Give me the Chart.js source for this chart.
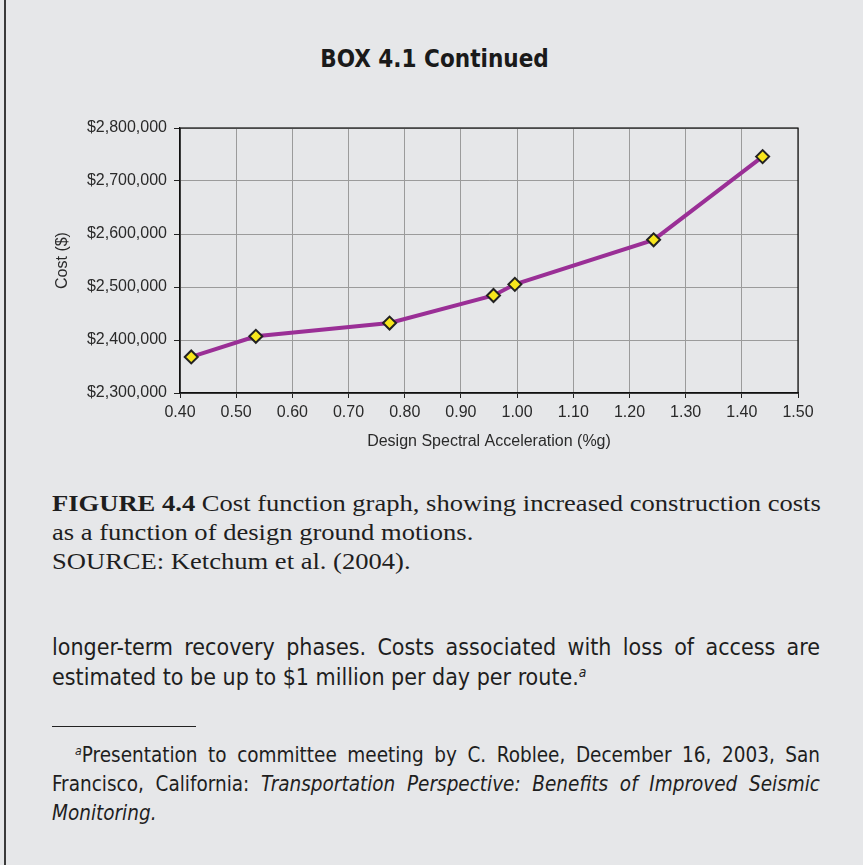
<!DOCTYPE html>
<html>
<head>
<meta charset="utf-8">
<script src="https://cdn.jsdelivr.net/npm/chart.js@4"></script>
<style>
  html, body { margin: 0; padding: 0; }
  body { width: 863px; height: 865px; background: #e6e7e9; position: relative; overflow: hidden; }
  #edge { position: absolute; left: 4px; top: 0; width: 2px; height: 865px; background: #3a3a3a; }
  #title { position: absolute; left: 3px; top: 45px; width: 863px; text-align: center;
           font: bold 24px "Liberation Sans Narrow", "DejaVu Sans Condensed", sans-serif; color: #1a1a1a; }
  #box { position: absolute; left: 0; top: 100px; width: 863px; height: 360px; }
  .ln { position: absolute; left: 52px; width: 768px; white-space: nowrap; color: #1e1e1e; }
  .just { text-align: justify; text-align-last: justify; white-space: normal; }
  #caption { position: absolute; left: 52px; top: 489px; width: 665px; transform: scaleX(1.155); transform-origin: 0 0;
             font: 23px "Liberation Serif", serif; line-height: 29px; color: #1e1e1e; white-space: nowrap; }
  .body { font: 23px "Liberation Sans Narrow", "DejaVu Sans Condensed", sans-serif; }
  .foot { font: 20.5px "Liberation Sans Narrow", "DejaVu Sans Condensed", sans-serif; }
  sup { font-size: 60%; font-style: italic; vertical-align: 0.55em; line-height: 0; }
  #rule { position: absolute; left: 52px; top: 726px; width: 144px; height: 1px; background: #222; }
</style>
</head>
<body>
<div id="edge"></div>
<div id="title">BOX 4.1 Continued</div>
<div id="box"><canvas id="grafico"></canvas></div>

<div id="caption"><b>FIGURE 4.4</b> Cost function graph, showing increased construction costs<br>as a function of design ground motions.<br>SOURCE: Ketchum et al. (2004).</div>

<div class="ln body just" style="top:634px">longer-term recovery phases. Costs associated with loss of access are</div>
<div class="ln body" style="top:664px">estimated to be up to $1 million per day per route.<sup>a</sup></div>

<div id="rule"></div>

<div class="ln foot just" style="top:743px; left:75px; width:745px"><sup>a</sup>Presentation to committee meeting by C. Roblee, December 16, 2003, San</div>
<div class="ln foot just" style="top:772px">Francisco, California: <i>Transportation Perspective: Benefits of Improved Seismic</i></div>
<div class="ln foot" style="top:801px"><i>Monitoring.</i></div>

<script>
// valores
const aceleracion = [0.42, 0.535, 0.773, 0.958, 0.996, 1.243, 1.437];
const costo = [2368000, 2407000, 2432000, 2484000, 2505000, 2589000, 2746000];
const xTicks = [0.4, 0.5, 0.6, 0.7, 0.8, 0.9, 1.0, 1.1, 1.2, 1.3, 1.4, 1.5];
const yTicks = [2300000, 2400000, 2500000, 2600000, 2700000, 2800000];

const puntos = aceleracion.map((x, i) => ({ x: x, y: costo[i] }));

// marco negro alrededor del area del grafico
const marco = {
    id: "marco",
    afterDraw(chart) {
        const a = chart.chartArea;
        const c = chart.ctx;
        c.save();
        c.strokeStyle = "#111";
        c.lineWidth = 1.2;
        c.strokeRect(a.left, a.top, a.right - a.left, a.bottom - a.top);
        c.restore();
    }
};

const fuente = { family: "'Liberation Sans', Arial, sans-serif", size: 16 };

const ctx = document.getElementById("grafico").getContext("2d");
window.myChart = new Chart(ctx, {
    type: "line",
    data: {
        datasets: [{
            data: puntos,
            borderColor: "#9a2f96",
            borderWidth: 4,
            pointStyle: "rectRot",
            pointRadius: 6.5,
            pointBackgroundColor: "#f7e61c",
            pointBorderColor: "#222",
            pointBorderWidth: 2,
            fill: false,
            tension: 0
        }]
    },
    options: {
        responsive: true,
        maintainAspectRatio: false,
        animation: false,
        layout: { padding: { left: 0, right: 65, top: 28, bottom: 0 } },
        plugins: { legend: { display: false }, tooltip: { enabled: false } },
        scales: {
            x: {
                type: "linear",
                min: xTicks[0],
                max: xTicks[xTicks.length - 1],
                afterBuildTicks: (s) => { s.ticks = xTicks.map(v => ({ value: v })); },
                afterFit: (s) => { s.height = 67; },
                grid: { color: "#9b9b9b", lineWidth: 1, tickLength: 5, tickColor: "#222" },
                border: { color: "#111", width: 1.2 },
                ticks: { font: fuente, color: "#2a2a2a", padding: 5, maxRotation: 0,
                         callback: (v) => Number(v).toFixed(2) },
                title: { display: true, text: "Design Spectral Acceleration (%g)", font: fuente,
                         color: "#2a2a2a", padding: { top: 0, bottom: 9 } }
            },
            y: {
                min: yTicks[0],
                max: yTicks[yTicks.length - 1],
                afterBuildTicks: (s) => { s.ticks = yTicks.map(v => ({ value: v })); },
                afterFit: (s) => { s.width = 180; },
                grid: { color: "#9b9b9b", lineWidth: 1, tickLength: 6, tickColor: "#222" },
                border: { color: "#111", width: 1.2 },
                ticks: { font: fuente, color: "#2a2a2a", padding: 7,
                         callback: (v) => "$" + Number(v).toLocaleString("en-US") },
                title: { display: true, text: "Cost ($)", font: fuente, color: "#2a2a2a",
                         padding: { top: 53, bottom: 0 } }
            }
        }
    },
    plugins: [marco]
});
</script>
</body>
</html>
